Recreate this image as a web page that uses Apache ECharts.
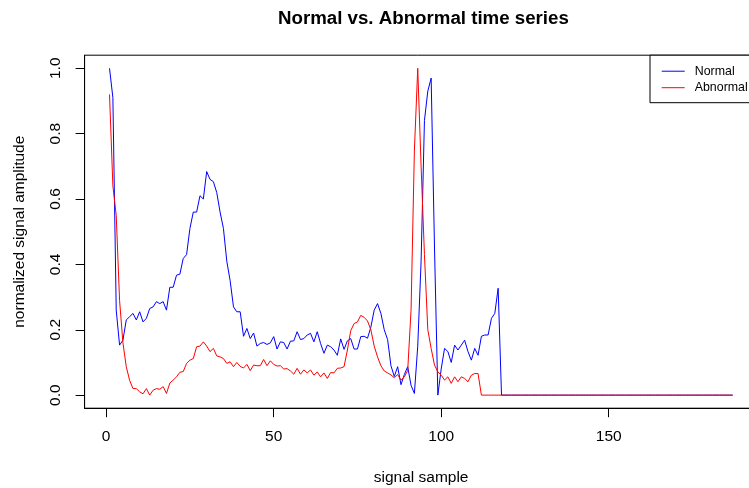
<!DOCTYPE html>
<html><head><meta charset="utf-8">
<script src="https://cdn.jsdelivr.net/npm/echarts@6/dist/echarts.min.js"></script>
<style>html,body{margin:0;padding:0;background:#fff}#c{width:749px;height:488px}</style>
</head><body><div id="c"></div>
<script>
const chartTitle = 'Normal vs. Abnormal time series';
const xAxisTitle = 'signal sample';
const yAxisTitle = 'normalized signal amplitude';
const seriesNames = ['Normal', 'Abnormal'];
const xTicks = [0, 50, 100, 150];
const yTicks = [0, 0.2, 0.4, 0.6, 0.8, 1.0];

const normal = [
  1.0, 0.91, 0.26, 0.153, 0.168, 0.23, 0.24, 0.25, 0.23, 0.255,
  0.224, 0.235, 0.265, 0.27, 0.286, 0.28, 0.286, 0.26, 0.33, 0.33,
  0.367, 0.37, 0.418, 0.43, 0.51, 0.56, 0.56, 0.61, 0.60, 0.684,
  0.66, 0.653, 0.62, 0.56, 0.51, 0.41, 0.35, 0.27, 0.255, 0.255,
  0.18, 0.204, 0.173, 0.19, 0.15, 0.158, 0.161, 0.155, 0.16, 0.179,
  0.141, 0.163, 0.161, 0.141, 0.165, 0.166, 0.194, 0.17, 0.173, 0.184,
  0.189, 0.163, 0.194, 0.158, 0.128, 0.153, 0.148, 0.138, 0.122, 0.172,
  0.14, 0.166, 0.173, 0.141, 0.141, 0.179, 0.18, 0.174, 0.208, 0.26,
  0.28, 0.25, 0.2, 0.17, 0.09, 0.057, 0.087, 0.032, 0.063, 0.087,
  0.03, 0.005, 0.15, 0.41, 0.84, 0.93, 0.97, 0.45, 0.0, 0.08,
  0.143, 0.133, 0.10, 0.153, 0.138, 0.153, 0.168, 0.133, 0.107, 0.143,
  0.122, 0.18, 0.184, 0.184, 0.235, 0.25, 0.327, 0, 0, 0,
  0, 0, 0, 0, 0, 0, 0, 0, 0, 0,
  0, 0, 0, 0, 0, 0, 0, 0, 0, 0,
  0, 0, 0, 0, 0, 0, 0, 0, 0, 0,
  0, 0, 0, 0, 0, 0, 0, 0, 0, 0,
  0, 0, 0, 0, 0, 0, 0, 0, 0, 0,
  0, 0, 0, 0, 0, 0, 0, 0, 0, 0,
  0, 0, 0, 0, 0, 0, 0
];

const abnormal = [
  0.92, 0.64, 0.55, 0.29, 0.16, 0.087, 0.045, 0.02, 0.02, 0.01,
  0.004, 0.02, 0.0, 0.015, 0.02, 0.018, 0.026, 0.005, 0.037, 0.046,
  0.056, 0.07, 0.072, 0.097, 0.107, 0.112, 0.148, 0.15, 0.163, 0.15,
  0.133, 0.143, 0.12, 0.117, 0.112, 0.097, 0.102, 0.087, 0.1, 0.088,
  0.083, 0.094, 0.075, 0.092, 0.09, 0.09, 0.109, 0.09, 0.105, 0.094,
  0.089, 0.09, 0.08, 0.081, 0.074, 0.064, 0.082, 0.064, 0.077, 0.068,
  0.077, 0.061, 0.071, 0.056, 0.068, 0.051, 0.069, 0.068, 0.082, 0.083,
  0.087, 0.138, 0.197, 0.219, 0.224, 0.244, 0.238, 0.227, 0.2, 0.15,
  0.117, 0.09, 0.074, 0.068, 0.062, 0.053, 0.063, 0.046, 0.056, 0.075,
  0.26, 0.75, 1.0, 0.70, 0.43, 0.2, 0.143, 0.092, 0.071, 0.061,
  0.046, 0.056, 0.036, 0.056, 0.041, 0.056, 0.051, 0.041, 0.061, 0.066,
  0.066, 0, 0, 0, 0, 0, 0, 0, 0, 0,
  0, 0, 0, 0, 0, 0, 0, 0, 0, 0,
  0, 0, 0, 0, 0, 0, 0, 0, 0, 0,
  0, 0, 0, 0, 0, 0, 0, 0, 0, 0,
  0, 0, 0, 0, 0, 0, 0, 0, 0, 0,
  0, 0, 0, 0, 0, 0, 0, 0, 0, 0,
  0, 0, 0, 0, 0, 0, 0, 0, 0, 0,
  0, 0, 0, 0, 0, 0, 0
];

const FONT = '"Liberation Sans", Arial, sans-serif';
const toXY = arr => arr.map((v, i) => [i + 1, v]);

const chart = echarts.init(document.getElementById('c'), null, {renderer: 'canvas'});
chart.setOption({
  animation: false,
  backgroundColor: '#ffffff',
  title: {
    text: chartTitle,
    left: 278, top: 9, padding: 0,
    textStyle: {fontFamily: FONT, fontSize: 18.7, fontWeight: 'bold', color: '#000'}
  },
  legend: {
    data: seriesNames,
    orient: 'vertical',
    left: 650, top: 55.2,
    padding: [10, 40, 9, 11.7],
    itemGap: 4.5,
    icon: 'rect',
    itemWidth: 23, itemHeight: 1,
    borderColor: '#000', borderWidth: 1, borderRadius: 0,
    backgroundColor: '#fff',
    textStyle: {fontFamily: FONT, fontSize: 12.4, color: '#000', padding: [0, 0, 0, 5]}
  },
  grid: {
    left: 84.6, top: 55.2, width: 673, height: 353,
    show: true, borderColor: '#000', borderWidth: 1, backgroundColor: 'transparent',
    containLabel: false, outerBoundsMode: 'none'
  },
  xAxis: {
    type: 'value', min: -6.44, max: 194.44,
    name: xAxisTitle, nameLocation: 'middle', nameGap: 61.4,
    nameTextStyle: {fontFamily: FONT, fontSize: 15.5, color: '#000'},
    axisLine: {show: true, onZero: false, lineStyle: {color: '#000', width: 1}},
    axisTick: {show: true, length: 9, customValues: xTicks, lineStyle: {color: '#000'}},
    axisLabel: {customValues: xTicks, margin: 21, fontFamily: FONT, fontSize: 15.5, color: '#000'},
    splitLine: {show: false}
  },
  yAxis: {
    type: 'value', min: -0.04, max: 1.04,
    name: yAxisTitle, nameLocation: 'middle', nameGap: 57.3, nameRotate: 90,
    nameTextStyle: {fontFamily: FONT, fontSize: 15.5, color: '#000'},
    axisLine: {show: true, onZero: false, lineStyle: {color: '#000', width: 1}},
    axisTick: {show: true, length: 9, customValues: yTicks, lineStyle: {color: '#000'}},
    axisLabel: {customValues: yTicks, rotate: 90, margin: 20.6, fontFamily: FONT, fontSize: 15.5, color: '#000',
      formatter: v => Number(v).toFixed(1)},
    splitLine: {show: false}
  },
  series: [
    {name: seriesNames[0], type: 'line', data: toXY(normal), symbol: 'none',
      lineStyle: {color: '#0000ff', width: 1}, itemStyle: {color: '#0000ff'}},
    {name: seriesNames[1], type: 'line', data: toXY(abnormal), symbol: 'none',
      lineStyle: {color: '#ff0000', width: 1}, itemStyle: {color: '#ff0000'}}
  ]
});
</script>
</body></html>
